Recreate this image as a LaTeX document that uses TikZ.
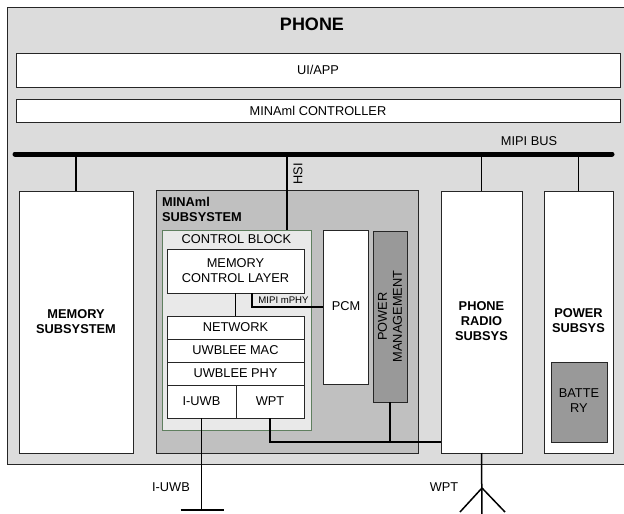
\documentclass[tikz,border=0pt]{standalone}
\usepackage{fontspec}
\setmainfont{Liberation Sans}
\usetikzlibrary{calc,fit}
\definecolor{phonegray}{HTML}{DCDCDC}
\definecolor{subgray}{HTML}{C0C0C0}
\definecolor{cbfill}{HTML}{E9E9E9}
\definecolor{cbborder}{HTML}{5F7F5F}
\definecolor{pmgray}{HTML}{999999}
\begin{document}
\begin{tikzpicture}[x=1pt,y=-1pt,
  box/.style={draw=black!85, line width=0.8pt, fill=white, inner sep=0pt, outer sep=0pt},
  conn/.style={line width=1.5pt, draw=black},
  txt/.style={inner sep=0pt, align=center, font=\fontsize{12.8}{15}\selectfont},
  btxt/.style={txt, font=\fontsize{12.8}{15}\selectfont\bfseries},
]
\useasboundingbox (0,0) rectangle (624,514);
% outer phone
\node[box, fill=phonegray, fit={(7,7)(632,464)}] (phone) {};
\node[txt, font=\fontsize{18}{20}\selectfont\bfseries] (phonet) at (312,24) {PHONE};
\node[box, fit={(16,53)(620,87)}] (uiapp) {};
\node[txt] (uiappt) at (uiapp.center) {UI/APP};
\node[box, fit={(16,99)(620,122)}] (ctrl) {};
\node[txt] (ctrlt) at (ctrl.center) {MINAml CONTROLLER};
% bus
\coordinate (busL) at (15,154);
\coordinate (busR) at (612,154);
\draw[line width=5pt, line cap=round] (busL) -- (busR);
\node[txt] (buslabel) at (529,141) {MIPI BUS};
% subsystems
\node[box, fit={(19,191)(133,453)}] (memory) {};
\node[btxt] (memoryt) at (76,321.5) {MEMORY\\SUBSYSTEM};
\node[box, fill=subgray, fit={(156,190)(418,453)}] (minaml) {};
\node[btxt, anchor=north west, align=left] (minamlt) at (162,197.5) {MINAml\\SUBSYSTEM};
\node[box, fill=cbfill, draw=cbborder, fit={(162,230)(311,430)}] (cblock) {};
\node[txt] (cblockt) at (236.5,239) {CONTROL BLOCK};
\node[box, fit={(167,249)(304,293)}] (mcl) {};
\node[txt] (mclt) at (mcl.center) {MEMORY\\CONTROL LAYER};
\node[box, fit={(167,316)(304,339)}] (net) {};
\node[txt] (nett) at (net.center) {NETWORK};
\node[box, fit={(167,339)(304,362)}] (mac) {};
\node[txt] (mact) at (mac.center) {UWBLEE MAC};
\node[box, fit={(167,362)(304,385)}] (phy) {};
\node[txt] (phyt) at (phy.center) {UWBLEE PHY};
\node[box, fit={(167,385)(236,418)}] (iuwb) {};
\node[txt] (iuwbbt) at (iuwb.center) {I-UWB};
\node[box, fit={(236,385)(304,418)}] (wpt) {};
\node[txt] (wptbt) at (wpt.center) {WPT};
\node[box, fit={(323,230)(368,384)}] (pcm) {};
\node[txt] (pcmt) at (346,306.5) {PCM};
\node[box, fill=pmgray, fit={(373,231)(407,402)}] (pm) {};
\node[txt, rotate=90] (pmt) at (390,316.5) {POWER\\MANAGEMENT};
\node[box, fit={(441,191)(522,453)}] (radio) {};
\node[btxt] (radiot) at (481.5,321) {PHONE\\RADIO\\SUBSYS};
\node[box, fit={(544,191)(613,453)}] (psub) {};
\node[btxt] (psubt) at (578.5,321) {POWER\\SUBSYS};
\node[box, fill=pmgray, fit={(551,362)(607,442)}] (batt) {};
\node[txt] (battt) at (579,401) {BATTE\\RY};
% bus drops
\draw[conn] (memory.north) -- (memory.north |- busL);
\draw[conn] (cblock.north -| minaml.north) -- (minaml.north |- busL);
\node[txt, rotate=90] (hsi) at (298,174) {HSI};
\draw[conn] (radio.north) -- (radio.north |- busL);
\draw[conn] (psub.north) -- (psub.north |- busL);
% internal
\draw[conn] (mcl.south) -- (net.north);
\coordinate (mphyA) at (252,293);
\draw[conn] (mphyA) |- (pcm.west);
\node[inner sep=0pt, font=\fontsize{9.6}{11}\selectfont] (mphyt) at (283.5,300) {MIPI mPHY};
\coordinate (wj) at (441,442);
\draw[conn] (wpt.south) |- (wj);
\draw[conn] (pm.south) -- (pm.south |- wj);
% I-UWB antenna
\coordinate (gnd) at (201.5,510);
\draw[conn] (iuwb.south) -- (gnd);
\draw[conn] ($(gnd)+(-21,0)$) -- ($(gnd)+(22,0)$);
\node[txt] (iuwbt) at (171,487) {I-UWB};
% WPT antenna
\coordinate (fork) at (482,488);
\draw[conn] (radio.south) -- (482,516);
\draw[conn] (fork) -- (460,512);
\draw[conn] (fork) -- (505,512);
\node[txt] (wptt) at (444,487) {WPT};
\end{tikzpicture}
\end{document}
